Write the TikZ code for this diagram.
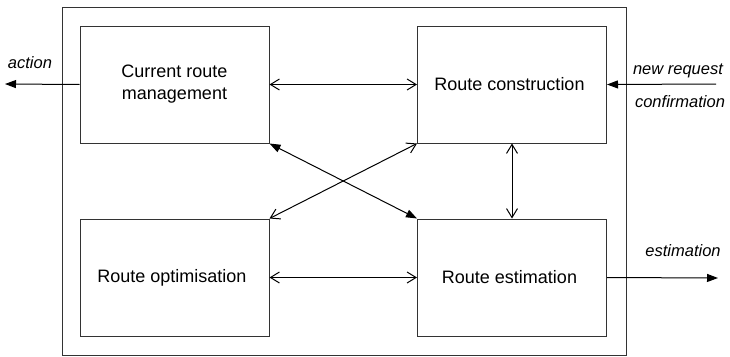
\documentclass[tikz,border=0pt]{standalone}
\usepackage{fontspec}
\setmainfont{Liberation Sans}
\usetikzlibrary{arrows.meta}
\begin{document}
\begin{tikzpicture}[x=1pt,y=-1pt,line width=1pt]
% size of each block
\def\bw{189pt}
\def\bh{117pt}
% node style definition
\tikzstyle{block} = [
	draw=black!80, rectangle, align=center,
	minimum width=\bw, minimum height=\bh,
	font=\fontsize{18}{22}\selectfont ];
\tikzstyle{plain} = [draw=none,fill=none,font=\fontsize{16.5}{20}\selectfont\itshape];
\tikzstyle{both} = [{Straight Barb[length=9pt,width=11pt]}-{Straight Barb[length=9pt,width=11pt]}];
\tikzstyle{solid} = [-{Triangle[length=11pt,width=8pt]}];
\tikzstyle{wide} = [{Triangle[length=11pt,width=8pt]}-{Triangle[length=11pt,width=8pt]}];
\useasboundingbox (0,0) rectangle (730,356);

% outer frame
\node[draw=black!80, minimum width=564pt, minimum height=348pt] (frame) at (344,181) {};

\node[block] (crm) at (174.5,84.5) { Current route\\management };
\node[block] (rc)  at (512,84.5)   { Route construction };
\node[block] (ro)  at (174.5,277.5) { Route optimisation };
\node[block] (re)  at (512,277.5)   { Route estimation };

% inner links
\draw[both] (crm.east) -- (rc.west);
\draw[both] (ro.east) -- (re.west);
\draw[both] (rc.south) -- (re.north);
\draw[wide] (crm.south east) -- (re.north west);
\draw[both] (rc.south west) -- (ro.north east);

% inputs and outputs
\coordinate (out1) at (5,84);
\coordinate (in1)  at (716,84);
\coordinate (out2) at (718,278);
\draw[solid] (crm.west) -- (out1);
\draw[solid] (in1) -- (rc.east);
\draw[solid] (re.east) -- (out2);

\node[plain] (action) at (30,63) { action };
\node[plain] (req)    at (678,71) { new request };
\node[plain] (conf)   at (680,102) { confirmation };
\node[plain] (est)    at (683,251) { estimation };
\end{tikzpicture}
\end{document}
